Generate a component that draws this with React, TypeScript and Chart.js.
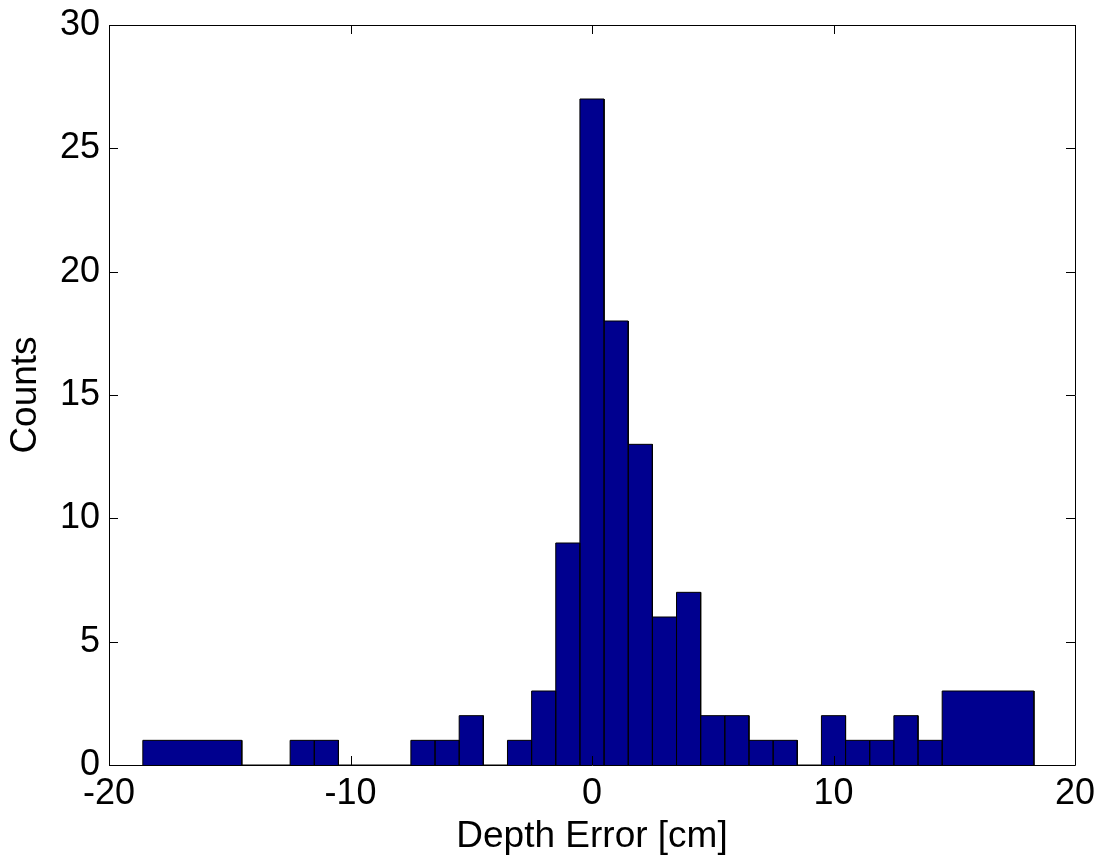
import React, { useEffect, useRef } from 'react';
import { Chart, registerables } from 'chart.js';

Chart.register(...registerables);

// Histogram bins (left edge, right edge, count)
const binLeft = [-18.6, -12.5, -11.5, -7.5, -6.5, -5.5, -3.5, -2.5, -1.5, -0.5, 0.5, 1.5, 2.5, 3.5, 4.5, 5.5, 6.5, 7.5, 9.5, 10.5, 11.5, 12.5, 13.5, 14.5];
const binRight = [-14.5, -11.5, -10.5, -6.5, -5.5, -4.5, -2.5, -1.5, -0.5, 0.5, 1.5, 2.5, 3.5, 4.5, 5.5, 6.5, 7.5, 8.5, 10.5, 11.5, 12.5, 13.5, 14.5, 18.3];
const counts = [1, 1, 1, 1, 1, 2, 1, 3, 9, 27, 18, 13, 6, 7, 2, 2, 1, 1, 2, 1, 1, 2, 1, 3];

const xTickValues = [-20, -10, 0, 10, 20];
const yTickValues = [0, 5, 10, 15, 20, 25, 30];

const xTitle = 'Depth Error [cm]';
const yTitle = 'Counts';

const FONT = 'Liberation Sans, Arial, Helvetica, sans-serif';

function buildOutline() {
  const pts: { x: number; y: number }[] = [];
  for (let i = 0; i < counts.length; i++) {
    pts.push({ x: binLeft[i], y: 0 });
    pts.push({ x: binLeft[i], y: counts[i] });
    pts.push({ x: binRight[i], y: counts[i] });
    pts.push({ x: binRight[i], y: 0 });
  }
  return pts;
}

const boxAndTicks = {
  id: 'boxAndTicks',
  afterDatasetsDraw(chart: any) {
    const { ctx, chartArea, scales } = chart;
    const { left, right, top, bottom } = chartArea;
    const len = 9;
    ctx.save();
    ctx.strokeStyle = '#000';
    ctx.lineWidth = 1;
    ctx.beginPath();
    for (const v of xTickValues) {
      const px = Math.round(scales.x.getPixelForValue(v)) + 0.5;
      ctx.moveTo(px, bottom);
      ctx.lineTo(px, bottom - len);
      ctx.moveTo(px, top);
      ctx.lineTo(px, top + len);
    }
    for (const v of yTickValues) {
      const py = Math.round(scales.y.getPixelForValue(v)) + 0.5;
      ctx.moveTo(left, py);
      ctx.lineTo(left + len, py);
      ctx.moveTo(right, py);
      ctx.lineTo(right - len, py);
    }
    ctx.stroke();
    ctx.beginPath();
    ctx.rect(left + 0.5, top + 0.5, right - left, bottom - top);
    ctx.stroke();
    ctx.restore();
  },
};

export default function App() {
  const ref = useRef<HTMLCanvasElement | null>(null);

  useEffect(() => {
    if (!ref.current) return;
    const chart = new Chart(ref.current, {
      type: 'scatter',
      data: {
        datasets: [
          {
            data: buildOutline(),
            showLine: true,
            fill: 'origin',
            backgroundColor: '#00008F',
            borderColor: '#000000',
            borderWidth: 1,
            pointRadius: 0,
            pointHoverRadius: 0,
            tension: 0,
          } as any,
        ],
      },
      options: {
        animation: false,
        responsive: false,
        devicePixelRatio: 1,
        layout: { padding: { top: 25, right: 25, left: 0, bottom: 0 } },
        plugins: { legend: { display: false }, tooltip: { enabled: false } },
        scales: {
          x: {
            type: 'linear',
            min: -20,
            max: 20,
            afterFit: (s: any) => { s.height = 92; s.paddingLeft = 0; s.paddingRight = 0; },
            afterBuildTicks: (s: any) => { s.ticks = xTickValues.map((v) => ({ value: v })); },
            ticks: { color: '#000', font: { family: FONT, size: 36 }, padding: 7, maxRotation: 0, autoSkip: false },
            grid: { display: false, drawTicks: false },
            border: { display: false },
            title: { display: true, text: xTitle, color: '#000', font: { family: FONT, size: 37, lineHeight: 1 }, padding: { top: 0, bottom: 2 } },
          },
          y: {
            type: 'linear',
            min: 0,
            max: 30,
            afterFit: (s: any) => { s.width = 109; s.paddingTop = 0; s.paddingBottom = 0; },
            afterBuildTicks: (s: any) => { s.ticks = yTickValues.map((v) => ({ value: v })); },
            ticks: { color: '#000', font: { family: FONT, size: 36 }, padding: 9, autoSkip: false },
            grid: { display: false, drawTicks: false },
            border: { display: false },
            title: { display: true, text: yTitle, color: '#000', font: { family: FONT, size: 37, lineHeight: 1 }, padding: { top: 7.5, bottom: 0 } },
          },
        },
      },
      plugins: [boxAndTicks],
    });
    return () => chart.destroy();
  }, []);

  return (
    <div style={{ position: 'fixed', left: 0, top: 0, width: 1100, height: 857, background: '#fff' }}>
      <canvas ref={ref} width={1100} height={857} style={{ display: 'block', width: 1100, height: 857 }} />
    </div>
  );
}
